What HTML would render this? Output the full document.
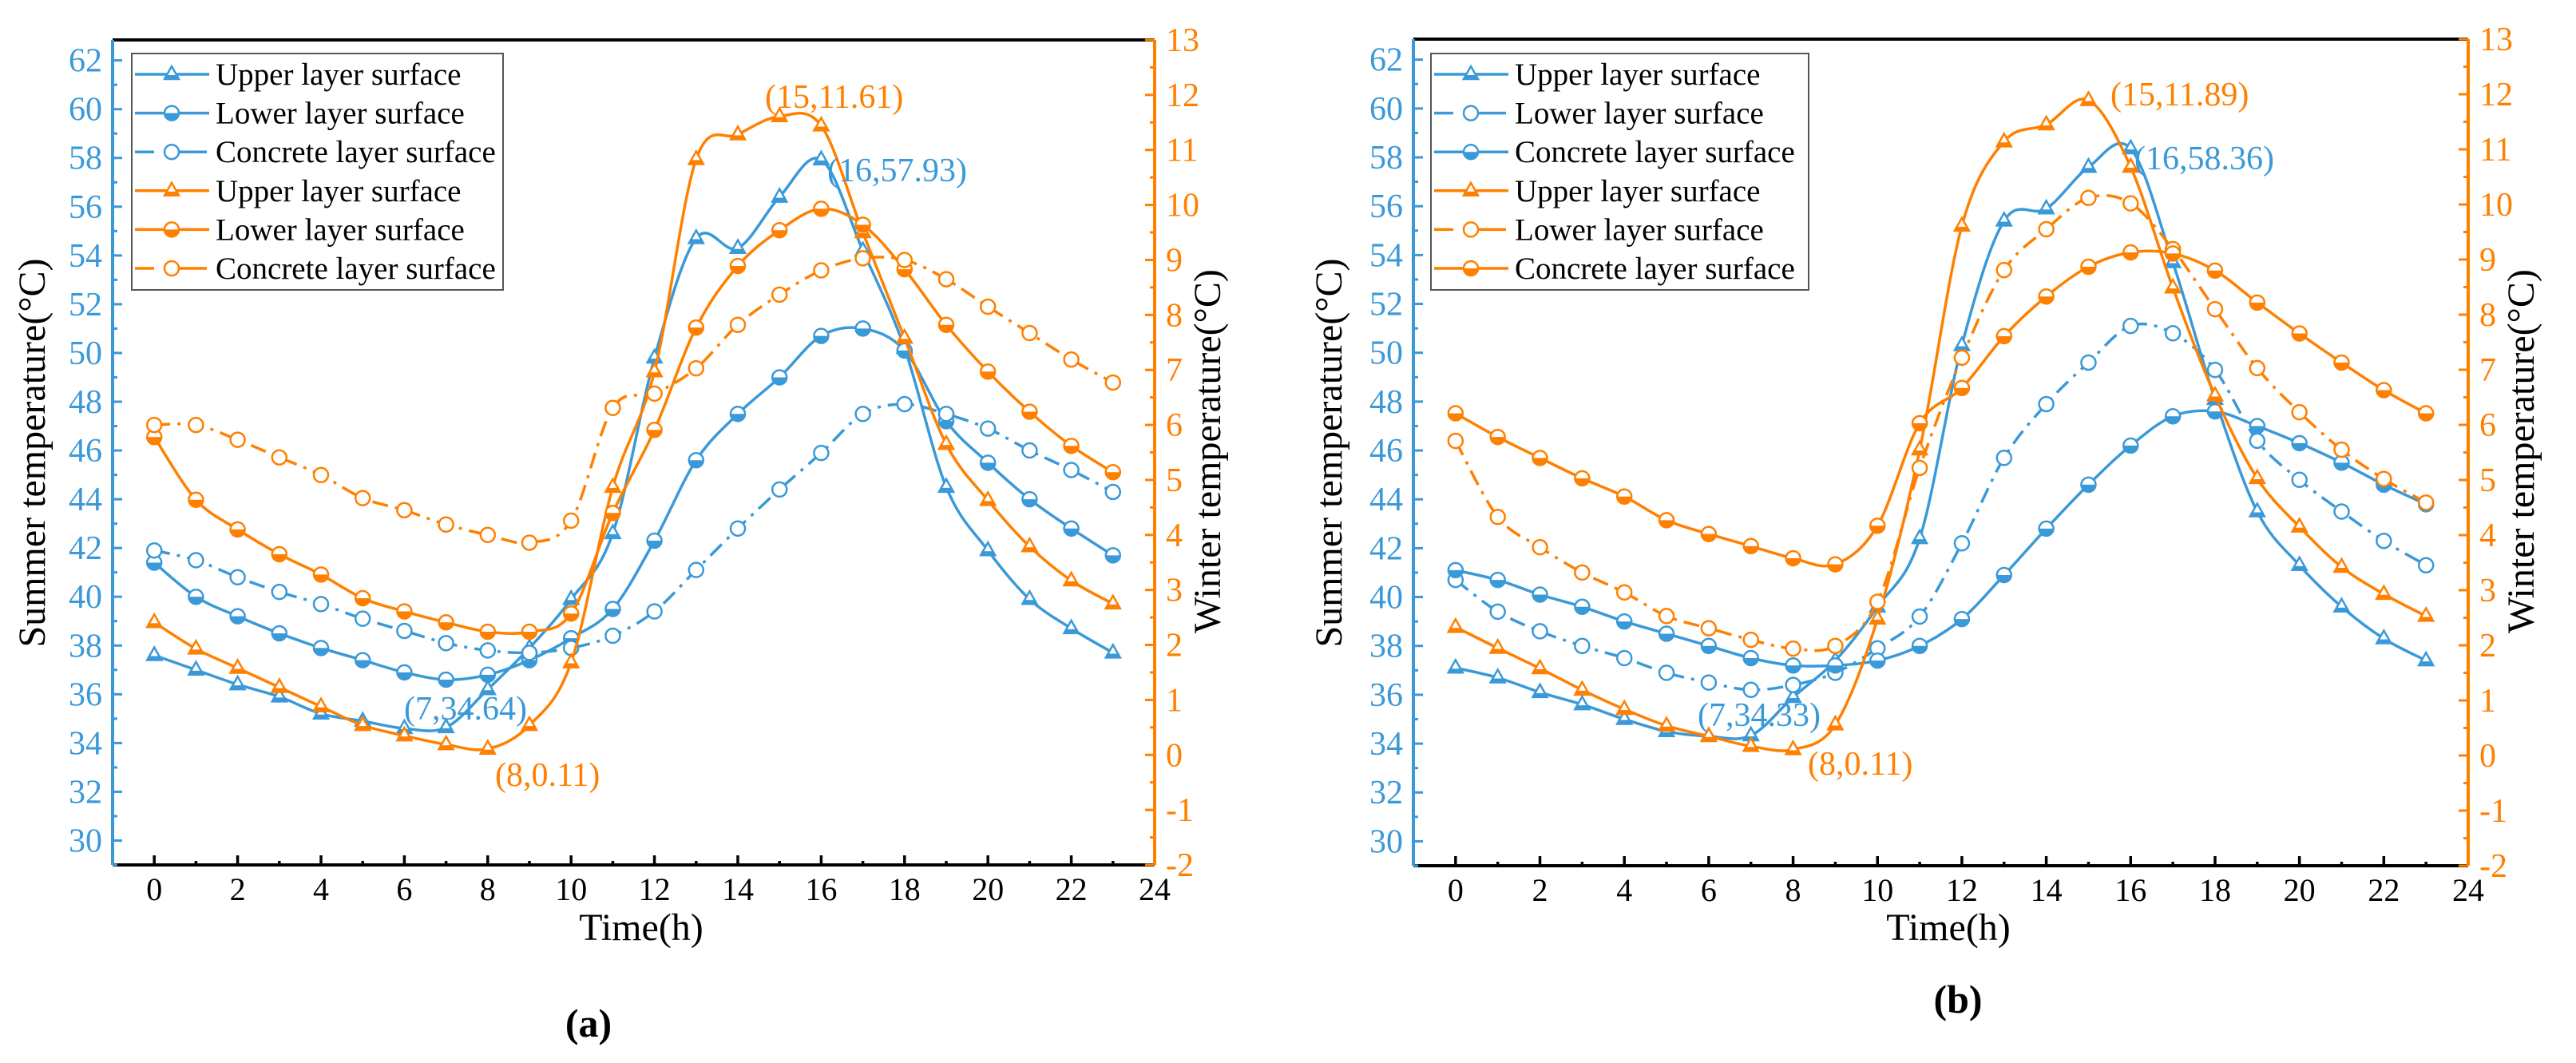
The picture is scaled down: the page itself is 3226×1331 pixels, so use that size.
<!DOCTYPE html>
<html><head><meta charset="utf-8">
<style>
html,body{margin:0;padding:0;background:#fff;}
svg{display:block;}
svg text{font-family:"Liberation Serif","DejaVu Serif",serif !important;}
</style></head>
<body>
<svg id="chart" width="3226" height="1331" viewBox="0 0 3226 1331" font-family="Liberation Serif, DejaVu Serif, serif" xmlns="http://www.w3.org/2000/svg"></svg>
<script>
const hours = [0,1,2,3,4,5,6,7,8,9,10,11,12,13,14,15,16,17,18,19,20,21,22,23];
const leftTicks = [30,32,34,36,38,40,42,44,46,48,50,52,54,56,58,60,62];
const rightTicks = [-2,-1,0,1,2,3,4,5,6,7,8,9,10,11,12,13];
const xTicks = [0,2,4,6,8,10,12,14,16,18,20,22,24];
const seriesLabels = ["Upper layer surface","Lower layer surface","Concrete layer surface"];
// Panel (a)
const aSumUpper = [37.6,37.0,36.4,35.9,35.2,34.9,34.6,34.64,36.2,37.9,39.9,42.6,49.8,54.7,54.3,56.4,57.93,54.2,50.2,44.5,41.9,39.9,38.7,37.7];
const aSumLower = [41.4,40.0,39.2,38.5,37.9,37.4,36.9,36.6,36.8,37.4,38.3,39.5,42.3,45.6,47.5,49.0,50.7,51.0,50.1,47.2,45.5,44.0,42.8,41.7];
const aSumConcrete = [41.9,41.5,40.8,40.2,39.7,39.1,38.6,38.1,37.8,37.7,37.9,38.4,39.4,41.1,42.8,44.4,45.9,47.5,47.9,47.5,46.9,46.0,45.2,44.3];
const aWinUpper = [2.41,1.93,1.58,1.23,0.88,0.54,0.35,0.19,0.11,0.54,1.68,4.87,6.97,10.83,11.28,11.61,11.44,9.5,7.58,5.65,4.63,3.79,3.17,2.75];
const aWinLower = [5.78,4.64,4.10,3.65,3.28,2.85,2.61,2.41,2.24,2.24,2.57,4.40,5.91,7.77,8.89,9.54,9.93,9.64,8.83,7.82,6.97,6.24,5.62,5.14];
const aWinConcrete = [6.0,6.0,5.73,5.41,5.09,4.67,4.45,4.19,4.0,3.86,4.26,6.31,6.57,7.03,7.82,8.37,8.81,9.03,9.0,8.65,8.15,7.67,7.19,6.77];
// Panel (b)
const bSumUpper = [37.1,36.7,36.1,35.6,35.0,34.5,34.3,34.33,35.9,37.4,39.6,42.4,50.3,55.4,55.9,57.6,58.36,53.7,48.1,43.5,41.3,39.6,38.3,37.4];
const bSumLower = [40.7,39.4,38.6,38.0,37.5,36.9,36.5,36.2,36.4,36.9,37.9,39.2,42.2,45.7,47.9,49.6,51.1,50.8,49.3,46.4,44.8,43.5,42.3,41.3];
const bSumConcrete = [41.1,40.7,40.1,39.6,39.0,38.5,38.0,37.5,37.2,37.2,37.4,38.0,39.1,40.9,42.8,44.6,46.2,47.4,47.6,47.0,46.3,45.5,44.6,43.8];
const bWinUpper = [2.33,1.95,1.58,1.19,0.84,0.54,0.35,0.17,0.11,0.56,2.48,5.55,9.61,11.14,11.45,11.89,10.68,8.49,6.53,5.03,4.15,3.42,2.93,2.53];
const bWinLower = [5.71,4.33,3.78,3.32,2.96,2.53,2.31,2.10,1.94,1.99,2.79,5.22,7.22,8.81,9.55,10.12,10.02,9.19,8.10,7.03,6.23,5.55,5.02,4.59];
const bWinConcrete = [6.21,5.78,5.40,5.03,4.70,4.27,4.02,3.80,3.58,3.47,4.17,6.03,6.67,7.61,8.33,8.87,9.13,9.11,8.80,8.22,7.66,7.13,6.63,6.21];

const BLUE="#3a99d8", ORANGE="#ff8000";
const NS="http://www.w3.org/2000/svg";
const svg=document.getElementById('chart');
function mk(tag,attrs,parent){const e=document.createElementNS(NS,tag);for(const k in attrs)e.setAttribute(k,attrs[k]);if(tag==='text')e.setAttribute('font-family','Liberation Serif, DejaVu Serif, serif');(parent||svg).appendChild(e);return e;}
function smooth(pts){
  let d="M"+pts[0][0]+","+pts[0][1];
  for(let i=0;i<pts.length-1;i++){
    const p0=pts[Math.max(0,i-1)],p1=pts[i],p2=pts[i+1],p3=pts[Math.min(pts.length-1,i+2)];
    const c1x=p1[0]+(p2[0]-p0[0])/6,c1y=p1[1]+(p2[1]-p0[1])/6;
    const c2x=p2[0]-(p3[0]-p1[0])/6,c2y=p2[1]-(p3[1]-p1[1])/6;
    d+=" C"+c1x.toFixed(1)+","+c1y.toFixed(1)+" "+c2x.toFixed(1)+","+c2y.toFixed(1)+" "+p2[0].toFixed(1)+","+p2[1].toFixed(1);
  }
  return d;
}
function marker(g,type,x,y,color){
  const r=9;
  if(type==='tri'){
    mk('polygon',{points:`${x},${y-r-1} ${x-r},${y+r-3} ${x+r},${y+r-3}`,fill:'#fff',stroke:color,'stroke-width':2.5},g);
    mk('rect',{x:x-r+1,y:y+1,width:2*r-2,height:r-4,fill:color},g);
  } else if(type==='half'){
    mk('circle',{cx:x,cy:y,r:r,fill:'#fff',stroke:color,'stroke-width':2.5},g);
    mk('path',{d:`M${x-r},${y} A${r},${r} 0 0 0 ${x+r},${y} Z`,fill:color},g);
  } else {
    mk('circle',{cx:x,cy:y,r:r,fill:'#fff',stroke:color,'stroke-width':2.5},g);
  }
}
const DASH="20 9 4 9";
function panel(cfg){
  const {x0,x1,y0,y1,id}=cfg;
  const X=v=>x0+(v+1)/25*(x1-x0);
  const YL=v=>y1-(v-29)/(62.84-29)*(y1-y0);
  const YR=v=>y1-(v+2)/15*(y1-y0);
  const g=mk('g',{});
  
  
  const top=mk('line',{x1:x0,y1:y0,x2:x1,y2:y0,stroke:'#000','stroke-width':4},g);
  
  
  const xa=mk('g',{},g);
  
  
  mk('line',{x1:x0,y1:y1,x2:x1,y2:y1,stroke:'#000','stroke-width':4},xa);
  for(let h=-1;h<=24;h++){
    const major=xTicks.includes(h);
    mk('line',{x1:X(h),y1:y1,x2:X(h),y2:y1-(major?12:5),stroke:'#000','stroke-width':3.5},xa);
  }
  xTicks.forEach(t=>{const tx=mk('text',{x:X(t),y:y1+44,'font-size':40,'text-anchor':'middle',fill:'#000'},xa);tx.textContent=t;
    
    });
  const ya=mk('g',{},g);
  
  
  mk('line',{x1:x0,y1:y0,x2:x0,y2:y1,stroke:BLUE,'stroke-width':4},ya);
  for(let v=29;v<=62;v++){
    const major=v%2===0;
    mk('line',{x1:x0,y1:YL(v),x2:x0+(major?12:6),y2:YL(v),stroke:BLUE,'stroke-width':3},ya);
  }
  leftTicks.forEach(t=>{const tx=mk('text',{x:x0-13,y:YL(t)+14,'font-size':42,'text-anchor':'end',fill:BLUE},ya);tx.textContent=t;
    
    });
  const ra=mk('g',{},g);
  
  
  mk('line',{x1:x1,y1:y0,x2:x1,y2:y1,stroke:ORANGE,'stroke-width':4},ra);
  for(let v=-2;v<=13;v+=0.5){
    const major=Number.isInteger(v);
    mk('line',{x1:x1,y1:YR(v),x2:x1-(major?12:6),y2:YR(v),stroke:ORANGE,'stroke-width':3},ra);
  }
  rightTicks.forEach(t=>{const tx=mk('text',{x:x1+14,y:YR(t)+14,'font-size':42,fill:ORANGE},ra);tx.textContent=t;
    
    });
  const lt=mk('text',{x:0,y:0,'font-size':48,'text-anchor':'middle',fill:'#000',transform:`translate(${cfg.ltx},567) rotate(-90)`},g);
  lt.textContent='Summer temperature(°C)';
  
  
  const rt=mk('text',{x:0,y:0,'font-size':48,'text-anchor':'middle',fill:'#000',transform:`translate(${cfg.rtx},565) rotate(-90)`},g);
  rt.textContent='Winter temperature(°C)';
  
  
  const xt=mk('text',{x:cfg.xtx,y:1177,'font-size':48,'text-anchor':'middle',fill:'#000'},g);
  xt.textContent='Time(h)';
  
  
  const pl=mk('text',{x:cfg.plx,y:cfg.ply+17,'font-size':50,'font-weight':'bold','text-anchor':'middle',fill:'#000'},g);
  pl.textContent=cfg.label;
  
  
  cfg.series.forEach((s,i)=>{
    const sg=mk('g',{},g);
    
    
    const Y=s.axis==='L'?YL:YR;
    const pts=hours.map((h,j)=>[X(h),Y(s.data[j])]);
    const attrs={d:smooth(pts),fill:'none',stroke:s.color,'stroke-width':3.5};
    if(s.dash)attrs['stroke-dasharray']=DASH;
    mk('path',attrs,sg);
    pts.forEach(p=>marker(sg,s.m,p[0],p[1],s.color));
  });
  const lg=mk('g',{},g);
  
  
  mk('rect',{x:cfg.lx,y:67,width:cfg.lw,height:296,fill:'#fff',stroke:'#555','stroke-width':2},lg);
  cfg.series.forEach((s,i)=>{
    const ry=93+i*48.6;
    const e=mk('g',{},lg);
    
    
    const la={x1:cfg.lx+4,y1:ry,x2:cfg.lx+97,y2:ry,stroke:s.color,'stroke-width':3.5};
    if(s.dash)la['stroke-dasharray']='24 16 50';
    mk('line',la,e);
    marker(e,s.m,cfg.lx+50,ry,s.color);
    const t=mk('text',{x:cfg.lx+105,y:ry+13,'font-size':39,fill:'#000'},e);
    t.textContent=s.label;
  });
  cfg.ann.forEach(a=>{
    const t=mk('text',{x:a.x,y:a.y+14,'font-size':42,fill:a.c},g);
    t.textContent=a.t;
    
    
  });
}
panel({id:'a',label:'(a)',x0:141,x1:1446,y0:50,y1:1083,ltx:56,rtx:1528,xtx:803,plx:737,ply:1281,lx:165,lw:465,
  series:[
    {name:'summer-upper',label:seriesLabels[0],data:aSumUpper,axis:'L',color:BLUE,m:'tri'},
    {name:'summer-lower',label:seriesLabels[1],data:aSumLower,axis:'L',color:BLUE,m:'half'},
    {name:'summer-concrete',label:seriesLabels[2],data:aSumConcrete,axis:'L',color:BLUE,m:'open',dash:true},
    {name:'winter-upper',label:seriesLabels[0],data:aWinUpper,axis:'R',color:ORANGE,m:'tri'},
    {name:'winter-lower',label:seriesLabels[1],data:aWinLower,axis:'R',color:ORANGE,m:'half'},
    {name:'winter-concrete',label:seriesLabels[2],data:aWinConcrete,axis:'R',color:ORANGE,m:'open',dash:true}],
  ann:[{t:'(15,11.61)',x:958,y:121,c:ORANGE},{t:'(16,57.93)',x:1036,y:213,c:BLUE},{t:'(7,34.64)',x:506,y:887,c:BLUE},{t:'(8,0.11)',x:620,y:970,c:ORANGE}]
});
panel({id:'b',label:'(b)',x0:1770,x1:3091,y0:49,y1:1084,ltx:1680,rtx:3173,xtx:2440,plx:2452,ply:1251,lx:1792,lw:473,
  series:[
    {name:'summer-upper',label:seriesLabels[0],data:bSumUpper,axis:'L',color:BLUE,m:'tri'},
    {name:'summer-lower',label:seriesLabels[1],data:bSumLower,axis:'L',color:BLUE,m:'open',dash:true},
    {name:'summer-concrete',label:seriesLabels[2],data:bSumConcrete,axis:'L',color:BLUE,m:'half'},
    {name:'winter-upper',label:seriesLabels[0],data:bWinUpper,axis:'R',color:ORANGE,m:'tri'},
    {name:'winter-lower',label:seriesLabels[1],data:bWinLower,axis:'R',color:ORANGE,m:'open',dash:true},
    {name:'winter-concrete',label:seriesLabels[2],data:bWinConcrete,axis:'R',color:ORANGE,m:'half'}],
  ann:[{t:'(15,11.89)',x:2643,y:118,c:ORANGE},{t:'(16,58.36)',x:2673,y:198,c:BLUE},{t:'(7,34.33)',x:2126,y:895,c:BLUE},{t:'(8,0.11)',x:2264,y:956,c:ORANGE}]
});
</script>
</body></html>
